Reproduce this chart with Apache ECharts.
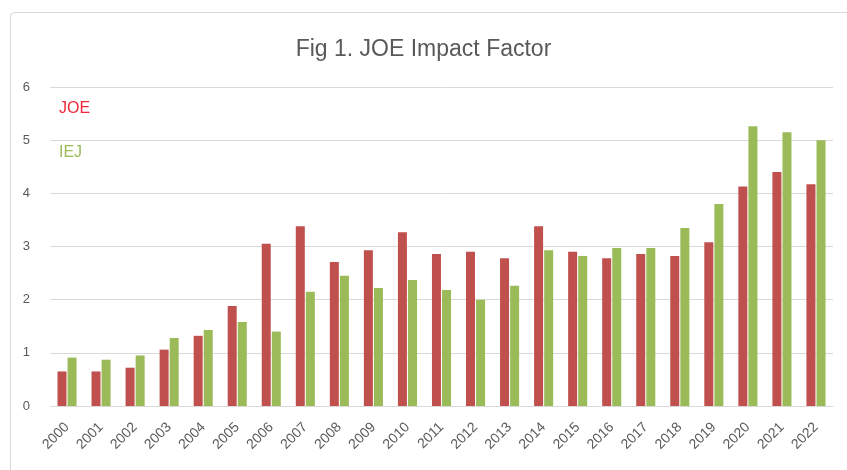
<!DOCTYPE html>
<html>
<head>
<meta charset="utf-8">
<script src="https://cdn.jsdelivr.net/npm/echarts@6/dist/echarts.min.js"></script>
<style>
html,body{margin:0;padding:0;background:#fff;}
#chart{width:847px;height:470px;}
</style>
</head>
<body>
<div id="chart"></div>
<script>
var years = ['2000','2001','2002','2003','2004','2005','2006','2007','2008','2009','2010','2011','2012','2013','2014','2015','2016','2017','2018','2019','2020','2021','2022'];
var joeValues = [0.65,0.65,0.72,1.06,1.32,1.88,3.05,3.38,2.71,2.93,3.27,2.86,2.90,2.78,3.38,2.90,2.78,2.86,2.82,3.08,4.13,4.40,4.17];
var iejValues = [0.91,0.87,0.95,1.28,1.43,1.58,1.40,2.15,2.45,2.22,2.37,2.18,2.00,2.26,2.93,2.82,2.97,2.97,3.35,3.80,5.26,5.15,5.00];
var seriesNames = ['JOE','IEJ'];
var titleText = 'Fig 1. JOE Impact Factor';

var chart = echarts.init(document.getElementById('chart'), null, {renderer:'canvas'});
var fontFam = "'Liberation Sans','Noto Sans',sans-serif";
chart.setOption({
  animation:false,
  backgroundColor:'#ffffff',
  graphic:[{
    type:'rect', left:10, top:12, z:-1,
    shape:{width:860, height:480, r:4},
    style:{fill:'#ffffff', stroke:'#d9d9d9', lineWidth:1}
  }],
  title:{
    text:titleText, left:'center', top:33,
    textStyle:{fontFamily:fontFam, fontSize:23, fontWeight:'normal', color:'#595959'}
  },
  legend:{
    orient:'vertical', left:54, top:96, itemGap:28,
    itemWidth:0, itemHeight:0, icon:'none',
    data:[
      {name:seriesNames[0], textStyle:{color:'#f2283a'}},
      {name:seriesNames[1], textStyle:{color:'#9bbb59'}}
    ],
    textStyle:{fontFamily:fontFam, fontSize:16, padding:[0,0,0,-5]}
  },
  grid:{left:50, right:14, top:87, bottom:64, containLabel:false},
  xAxis:{
    type:'category', data:years,
    axisLine:{lineStyle:{color:'#d9d9d9', width:1}},
    axisTick:{show:false},
    axisLabel:{rotate:45, color:'#595959', fontFamily:fontFam, fontSize:14, margin:19, interval:0}
  },
  yAxis:{
    type:'value', min:0, max:6, interval:1,
    axisLine:{show:false}, axisTick:{show:false},
    splitLine:{lineStyle:{color:'#d9d9d9', width:1}},
    axisLabel:{color:'#595959', fontFamily:fontFam, fontSize:13, margin:20}
  },
  series:[
    {name:seriesNames[0], type:'bar', data:joeValues, barWidth:9, barGap:'12%',
     itemStyle:{color:'#c0504d'}},
    {name:seriesNames[1], type:'bar', data:iejValues, barWidth:9,
     itemStyle:{color:'#9bbb59'}}
  ]
});
</script>
</body>
</html>
